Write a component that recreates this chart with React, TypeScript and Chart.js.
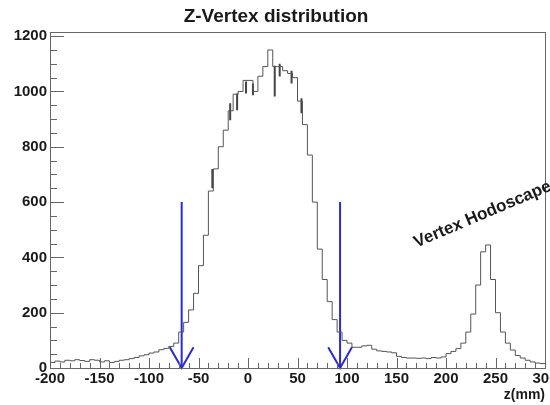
import React, { useEffect, useRef } from "react";
import { Chart, registerables } from "chart.js";

Chart.register(...registerables);

const TITLE = "Z-Vertex distribution";
const X_LABEL = "z(mm)";
const ANNOTATION = "Vertex Hodoscape";

const BIN_LOW = -200;
const BIN_WIDTH = 5;
// counts per 5 mm bin, from -200 mm to 300 mm
const COUNTS = [
  20, 25, 22, 28, 26, 30, 27, 24, 30, 28,
  22, 26, 20, 24, 28, 30, 34, 38, 44, 48,
  54, 58, 66, 71, 78, 90, 130, 165, 210, 270,
  370, 480, 640, 720, 800, 860, 930, 990, 1000, 1040,
  1040, 1000, 1055, 1090, 1150, 1090, 1090, 1075, 1065, 1050,
  965, 880, 770, 600, 430, 320, 240, 175, 130, 100,
  90, 75, 75, 80, 82, 68, 62, 60, 58, 55,
  42, 38, 36, 36, 35, 36, 34, 38, 36, 40,
  52, 60, 70, 90, 130, 195, 300, 420, 445, 320,
  200, 130, 90, 65, 45, 36, 28, 22, 18, 16,
];

// visible error-bar segments near the peak: z, low, high
const ERR_Z = [-36, -18, -11, -2, 5, 27, 32, 44, 54];
const ERR_LO = [650, 896, 932, 993, 986, 982, 1054, 1029, 921];
const ERR_HI = [720, 957, 993, 1036, 1029, 1093, 1100, 1075, 975];

const CUT_POSITIONS = [-67, 93];
const ARROW_TOP = 600;
const ARROW_HEAD_DX = 12;
const ARROW_HEAD_DY = 75;

const X_TICKS = [-200, -150, -100, -50, 0, 50, 100, 150, 200, 250, 300];
const Y_TICKS = [0, 200, 400, 600, 800, 1000, 1200];

const X_MIN = -200;
const X_MAX = 300;
const Y_MIN = 0;
const Y_MAX = 1215;
const ANNOT_POS = { x: 237, y: 555 };

const FONT = "'Liberation Sans', Arial, Helvetica, sans-serif";

const decorPlugin = {
  id: "decor",
  afterDraw(chart: any) {
    const { ctx, chartArea: a, scales } = chart;
    const x = scales.x;
    const y = scales.y;
    ctx.save();
    ctx.strokeStyle = "#666";
    ctx.lineWidth = 1;
    ctx.strokeRect(Math.round(a.left) + 0.5, Math.round(a.top) + 0.5, Math.round(a.right - a.left), Math.round(a.bottom - a.top));
    ctx.beginPath();
    for (let v = 0; v <= 1200; v += 50) {
      const py = Math.round(y.getPixelForValue(v)) + 0.5;
      const len = v % 200 === 0 ? 14 : 7;
      ctx.moveTo(a.left, py);
      ctx.lineTo(a.left + len, py);
    }
    for (let v = X_MIN; v <= X_MAX; v += 10) {
      const px = Math.round(x.getPixelForValue(v)) + 0.5;
      const len = v % 50 === 0 ? 10 : 5;
      ctx.moveTo(px, a.bottom);
      ctx.lineTo(px, a.bottom - len);
    }
    ctx.stroke();

    ctx.fillStyle = "#1a1a1a";
    ctx.font = `bold 19px ${FONT}`;
    ctx.textAlign = "center";
    ctx.textBaseline = "middle";
    ctx.fillText(TITLE, chart.width / 2 + 1, 17);

    ctx.font = `bold 14px ${FONT}`;
    ctx.textAlign = "right";
    ctx.fillText(X_LABEL, a.right, 395);

    ctx.translate(x.getPixelForValue(ANNOT_POS.x), y.getPixelForValue(ANNOT_POS.y));
    ctx.rotate((-23 * Math.PI) / 180);
    ctx.font = `bold 17px ${FONT}`;
    ctx.textAlign = "center";
    ctx.fillText(ANNOTATION, 0, 0);
    ctx.restore();
  },
};

export default function App() {
  const ref = useRef<HTMLCanvasElement | null>(null);
  useEffect(() => {
    if (!ref.current) return;
    const hist = COUNTS.map((c, i) => ({ x: BIN_LOW + i * BIN_WIDTH, y: c }));
    hist.push({ x: BIN_LOW + COUNTS.length * BIN_WIDTH, y: COUNTS[COUNTS.length - 1] });

    const errPts: any[] = [];
    ERR_Z.forEach((z, i) => {
      errPts.push({ x: z, y: ERR_LO[i] }, { x: z, y: ERR_HI[i] }, { x: z, y: null });
    });

    const arrowSets: any[] = [];
    CUT_POSITIONS.forEach((c) => {
      arrowSets.push({
        data: [{ x: c, y: ARROW_TOP }, { x: c, y: 0 }],
        borderColor: "#2a2ad8",
        borderWidth: 2,
        pointRadius: 0,
        clip: false,
      });
      arrowSets.push({
        data: [
          { x: c - ARROW_HEAD_DX, y: ARROW_HEAD_DY },
          { x: c, y: 0 },
          { x: c + ARROW_HEAD_DX, y: ARROW_HEAD_DY },
        ],
        borderColor: "#2a2ad8",
        borderWidth: 2,
        pointRadius: 0,
        clip: false,
      });
    });

    const chart = new Chart(ref.current, {
      type: "line",
      data: {
        datasets: [
          {
            data: hist,
            stepped: "before",
            borderColor: "#555",
            borderWidth: 1,
            pointRadius: 0,
            fill: false,
          },
          {
            data: errPts,
            borderColor: "#444",
            borderWidth: 2,
            pointRadius: 0,
            spanGaps: false,
          },
          ...arrowSets,
        ],
      },
      options: {
        animation: false,
        responsive: false,
        layout: { padding: { top: 32, right: 5, left: 0, bottom: 0 } },
        plugins: { legend: { display: false }, tooltip: { enabled: false }, title: { display: false } },
        scales: {
          x: {
            type: "linear",
            min: X_MIN,
            max: X_MAX,
            grid: { display: false, drawTicks: false },
            border: { display: false },
            afterBuildTicks: (s: any) => {
              s.ticks = X_TICKS.map((v) => ({ value: v }));
            },
            ticks: {
              maxRotation: 0,
              autoSkip: false,
              padding: 2,
              color: "#1a1a1a",
              font: { family: FONT, size: 15, weight: "bold" },
              callback: (v: any) => String(v),
            },
            afterFit: (s: any) => {
              s.height = 37;
              s.paddingLeft = 0;
              s.paddingRight = 0;
            },
          },
          y: {
            type: "linear",
            min: Y_MIN,
            max: Y_MAX,
            grid: { display: false, drawTicks: false },
            border: { display: false },
            afterBuildTicks: (s: any) => {
              s.ticks = Y_TICKS.map((v) => ({ value: v }));
            },
            ticks: {
              padding: 3,
              color: "#1a1a1a",
              font: { family: FONT, size: 15, weight: "bold" },
              callback: (v: any) => String(v),
            },
            afterFit: (s: any) => {
              s.width = 50;
              s.paddingTop = 0;
              s.paddingBottom = 0;
            },
          },
        },
      },
      plugins: [decorPlugin],
    });
    return () => chart.destroy();
  }, []);

  return (
    <div style={{ position: "absolute", left: 0, top: 0, width: 550, height: 405, background: "#fff" }}>
      <canvas ref={ref} width={550} height={405} style={{ display: "block" }} />
    </div>
  );
}
